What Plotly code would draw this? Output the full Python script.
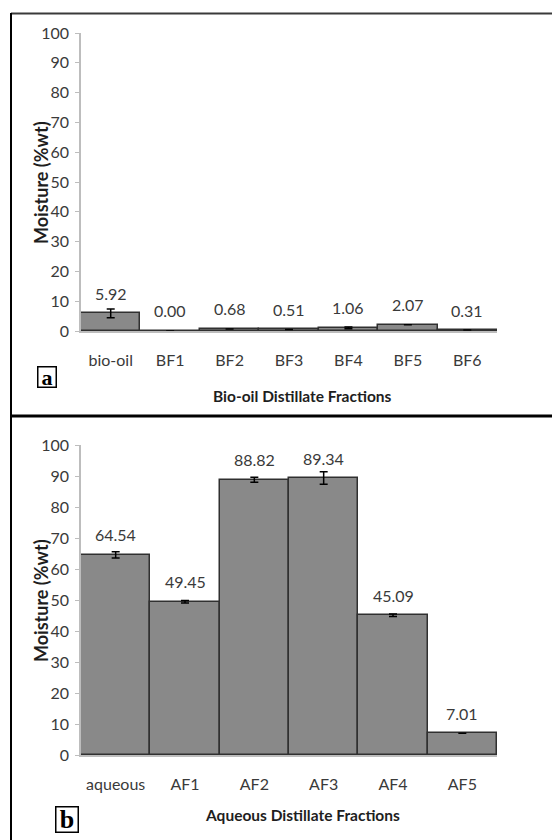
import plotly.graph_objects as go

# Panel a data
bio_categories = ["bio-oil", "BF1", "BF2", "BF3", "BF4", "BF5", "BF6"]
bio_moisture = [5.92, 0.00, 0.68, 0.51, 1.06, 2.07, 0.31]
bio_error = [1.5, 0.0, 0.0, 0.0, 0.3, 0.0, 0.0]

# Panel b data
aq_categories = ["aqueous", "AF1", "AF2", "AF3", "AF4", "AF5"]
aq_moisture = [64.54, 49.45, 88.82, 89.34, 45.09, 7.01]
aq_error = [1.0, 0.4, 0.8, 2.0, 0.4, 0.0]

y_ticks = [0, 10, 20, 30, 40, 50, 60, 70, 80, 90, 100]

OFF = 8  # default page body margin
W, H = 560 - OFF, 840 - OFF
FONT = "Lato"
BAR_COLOR = "#898989"
TXT = "#3a3a3a"
TICK_SIZE = 16

def px_x(x):
    return (x - OFF) / W

def px_y(y):
    return 1 - (y - OFF) / H

fig = go.Figure()

fig.add_trace(go.Bar(
    x=bio_categories, y=bio_moisture, xaxis="x", yaxis="y",
    marker=dict(color=BAR_COLOR, line=dict(color="#303030", width=1.5)),
    error_y=dict(type="data", array=bio_error, color="black", thickness=1.5, width=4),
    showlegend=False,
))
fig.add_trace(go.Bar(
    x=aq_categories, y=aq_moisture, xaxis="x2", yaxis="y2",
    marker=dict(color=BAR_COLOR, line=dict(color="#303030", width=1.5)),
    error_y=dict(type="data", array=aq_error, color="black", thickness=1.5, width=4),
    showlegend=False,
))

axis_common = dict(
    showgrid=False, zeroline=False, automargin=False,
    tickfont=dict(family=FONT, size=TICK_SIZE, color=TXT),
)

fig.update_layout(
    width=W, height=H,
    margin=dict(l=0, r=0, t=0, b=0),
    paper_bgcolor="white", plot_bgcolor="white",
    bargap=0,
    font=dict(family=FONT, color=TXT),
    xaxis=dict(domain=[px_x(81), px_x(497)], anchor="y", showline=True,
               linecolor="#bdbdbd", linewidth=1.5, ticks="", ticklabelstandoff=14,
               **axis_common),
    yaxis=dict(domain=[px_y(331), px_y(33)], anchor="x", range=[0, 100],
               tickvals=y_ticks, showline=True, linecolor="#bdbdbd", linewidth=1.5,
               ticks="outside", ticklen=4, tickcolor="#bdbdbd", ticklabelstandoff=3,
               **axis_common),
    xaxis2=dict(domain=[px_x(81), px_x(497)], anchor="y2", showline=True,
                linecolor="#bdbdbd", linewidth=1.5, ticks="", ticklabelstandoff=14,
                **axis_common),
    yaxis2=dict(domain=[px_y(755), px_y(445)], anchor="x2", range=[0, 100],
                tickvals=y_ticks, showline=True, linecolor="#bdbdbd", linewidth=1.5,
                ticks="outside", ticklen=4, tickcolor="#bdbdbd", ticklabelstandoff=3,
                **axis_common),
)

annotations = []
for c, v in zip(bio_categories, bio_moisture):
    annotations.append(dict(x=c, y=v, xref="x", yref="y", text=f"{v:.2f}",
                            showarrow=False, xanchor="center", yanchor="middle", yshift=20,
                            font=dict(family=FONT, size=TICK_SIZE, color=TXT)))
for c, v in zip(aq_categories, aq_moisture):
    annotations.append(dict(x=c, y=v, xref="x2", yref="y2", text=f"{v:.2f}",
                            showarrow=False, xanchor="center", yanchor="middle", yshift=20,
                            font=dict(family=FONT, size=TICK_SIZE, color=TXT)))

# Axis titles
for ytitle_y in (px_y(183), px_y(601)):
    annotations.append(dict(x=px_x(41), y=ytitle_y, xref="paper", yref="paper",
                            xanchor="center", yanchor="middle",
                            text="<b>Moisture (%wt)</b>", textangle=-90, showarrow=False,
                            font=dict(family=FONT, size=18, color="#1e1e1e")))
annotations.append(dict(x=px_x(302), y=px_y(396), xref="paper", yref="paper",
                        xanchor="center", yanchor="middle",
                        text="<b>Bio-oil Distillate Fractions</b>", showarrow=False,
                        font=dict(family=FONT, size=15.5, color="#1e1e1e")))
annotations.append(dict(x=px_x(302), y=px_y(815), xref="paper", yref="paper",
                        xanchor="center", yanchor="middle",
                        text="<b>Aqueous Distillate Fractions</b>", showarrow=False,
                        font=dict(family=FONT, size=15.5, color="#1e1e1e")))

# Panel letters
annotations.append(dict(x=px_x(46.5), y=px_y(376.5), xref="paper", yref="paper",
                        xanchor="center", yanchor="middle",
                        text="<b>a</b>", showarrow=False, bordercolor="black",
                        borderwidth=1.5, borderpad=0, width=17, height=19,
                        font=dict(family="Liberation Serif", size=22, color="black")))
annotations.append(dict(x=px_x(66.5), y=px_y(819), xref="paper", yref="paper",
                        xanchor="center", yanchor="middle",
                        text="<b>b</b>", showarrow=False, bordercolor="black",
                        borderwidth=1.5, borderpad=0, width=21, height=24,
                        font=dict(family="Liberation Serif", size=26, color="black")))

fig.update_layout(annotations=annotations)

# Frame lines
fig.add_shape(type="line", xref="paper", yref="paper", x0=px_x(11), x1=1.0,
              y0=px_y(13.5), y1=px_y(13.5), line=dict(color="#3a3a3a", width=2))
fig.add_shape(type="line", xref="paper", yref="paper", x0=px_x(11), x1=1.0,
              y0=px_y(416), y1=px_y(416), line=dict(color="black", width=3))
fig.add_shape(type="line", xref="paper", yref="paper", x0=px_x(11), x1=px_x(11),
              y0=px_y(13), y1=0, line=dict(color="black", width=2))

fig.write_html("out.html")
